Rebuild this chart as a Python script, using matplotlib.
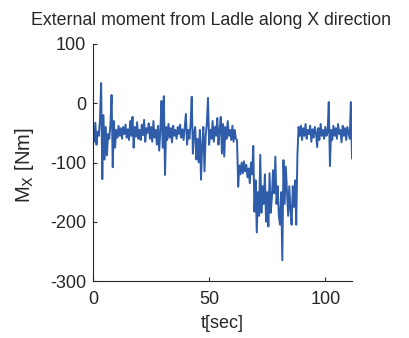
import matplotlib

matplotlib.use("Agg")
import matplotlib.pyplot as plt
import numpy as np

plt.rcParams["font.family"] = ["Liberation Sans", "DejaVu Sans"]
plt.rcParams["axes.unicode_minus"] = False

# external moment about X, sampled every 0.5 s
moment_x = [
    -42, -65, -33, -70, -48, -55, -28, 34, -128, -20,
    -95, -40, -88, -52, -60, -35, 14, -108, -30, -75,
    -45, -58, -38, -55, -42, -60, -40, -52, -36, -58,
    -44, -62, -30, -55, -23, -75, -40, -56, -32, -60,
    -45, -62, -36, -54, -28, -65, -42, -50, -34, -60,
    -40, -65, -30, -58, -45, -70, -38, -80, -45, 4,
    -75, 12, -121, -40, -62, -35, -58, -42, -66, -38,
    -55, -45, -60, -40, -52, -36, -58, -44, -62, -40,
    -18, -70, -45, -60, -35, 11, -85, -50, -40, -95,
    -60, -100, -45, -129, -70, -40, -115, -55, -35, 9,
    -70, -45, -60, -30, -65, -40, -55, -25, -70, -45,
    -23, -85, -35, -90, -40, -60, -30, -55, -45, -62,
    -38, -65, -45, -60, -62, -141, -105, -120, -100, -118,
    -98, -115, -104, -125, -110, -135, -100, -120, -72, -183,
    -130, -218, -150, -190, -87, -185, -140, -170, -120, -200,
    -150, -208, -118, -185, -160, -113, -152, -90, -170, -140,
    -190, -205, -150, -265, -96, -170, -107, -150, -190, -140,
    -180, -205, -140, -175, -130, -205, -87, -40, -55, -38,
    -62, -42, -55, -35, -60, -45, -52, -38, -65, -44,
    -58, -40, -50, -74, -42, -62, -35, -55, -45, -60,
    -40, -55, -48, 2, -106, -45, -62, -38, -55, -42,
    -60, -35, -52, -45, -66, -38, -55, -42, -62, -40,
    -50, -60, 2, -93,
]
t = np.arange(len(moment_x)) * 0.5

x_ticks = [0, 50, 100]
y_ticks = [-300, -200, -100, 0, 100]

W, H = 409, 338
fig = plt.figure(figsize=(W / 100, H / 100), dpi=100)
ax = fig.add_axes([93 / W, 1 - 281 / H, 259 / W, 237 / H])
ax.plot(t, moment_x, color="#2f5daa", linewidth=1.4)

ax.set_xlim(0, t[-1])
ax.set_ylim(-300, 100)
ax.set_xticks(x_ticks)
ax.set_yticks(y_ticks)
ax.spines["top"].set_visible(False)
ax.spines["right"].set_visible(False)
for side in ("left", "bottom"):
    ax.spines[side].set_color("#262626")
    ax.spines[side].set_linewidth(0.8)
ax.tick_params(direction="in", length=3, width=0.8, color="#262626",
               labelsize=13, labelcolor="#262626")
ax.tick_params(axis="x", pad=7)
ax.tick_params(axis="y", pad=5)

# axis labels and title placed in figure coordinates
fig.text(222 / W, 1 - 323 / H, "t[sec]", ha="center", va="center",
         fontsize=13, color="#262626")
fig.text(25 / W, 1 - 165 / H, "M$_\\mathrm{X}$ [Nm]", ha="center", va="center",
         rotation=90, fontsize=14.5, color="#262626")
fig.text(211 / W, 0.94, "External moment from Ladle along X direction",
         ha="center", va="center", fontsize=12.8, color="#262626")

fig.savefig("out.png", dpi=100)
